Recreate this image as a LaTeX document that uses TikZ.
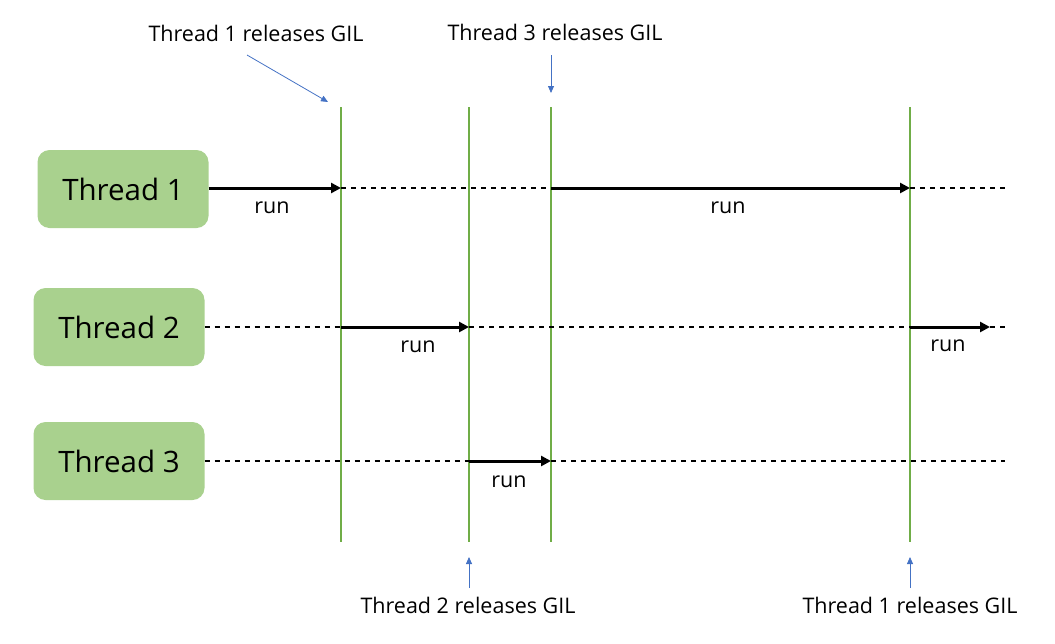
\documentclass[tikz,border=0pt]{standalone}
\usepackage{fontspec}
\setmainfont{Open Sans}
\usetikzlibrary{arrows.meta}
\definecolor{boxgreen}{HTML}{A9D18E}
\definecolor{linegreen}{HTML}{70AD47}
\definecolor{arrowblue}{HTML}{4472C4}
\begin{document}
\begin{tikzpicture}[x=1pt,y=-1pt,
  thread/.style={fill=boxgreen,rounded corners=12pt,minimum width=171pt,minimum height=78pt,inner sep=0pt,font=\fontsize{29.5}{34}\selectfont},
  small/.style={font=\fontsize{21.5}{24}\selectfont,inner sep=0pt},
  gil/.style={draw=linegreen,line width=1.5pt},
  runarrow/.style={draw=black,line width=3pt,-{Triangle[length=10pt,width=10pt]}},
  wait/.style={draw=black,line width=1.2pt,dash pattern=on 5pt off 5pt},
  note/.style={draw=arrowblue,line width=0.8pt,-{Triangle[length=7pt,width=6pt]}}]
\useasboundingbox (0,0) rectangle (1055,643);
% threads
\node[thread] (t1) at (123,189) {Thread 1};
\node[thread] (t2) at (119,327) {Thread 2};
\node[thread] (t3) at (119,461) {Thread 3};
% GIL lines
\foreach \n/\x in {a/341,b/469,c/551,d/910}{
  \coordinate (\n top) at (\x,107);
  \coordinate (\n bot) at (\x,542);
  \draw[gil] (\n top) -- (\n bot);
  \coordinate (\n1) at (\x,188);
  \coordinate (\n2) at (\x,327);
  \coordinate (\n3) at (\x,461);
}
\coordinate (e1) at (1005,188);
\coordinate (e2) at (1005,327);
\coordinate (f2) at (990,327);
\coordinate (e3) at (1005,461);
% row 1
\draw[runarrow] (t1.east |- a1) -- (a1);
\draw[wait] (a1) -- (c1);
\draw[runarrow] (c1) -- (d1);
\draw[wait] (d1) -- (e1);
% row 2
\draw[wait] (t2.east |- a2) -- (a2);
\draw[runarrow] (a2) -- (b2);
\draw[wait] (b2) -- (d2);
\draw[runarrow] (d2) -- (f2);
\draw[wait] (f2) -- (e2);
% row 3
\draw[wait] (t3.east |- b3) -- (b3);
\draw[runarrow] (b3) -- (c3);
\draw[wait] (c3) -- (e3);
% run labels
\node[small] (r1) at (272,208) {run};
\node[small] (r2) at (728,208) {run};
\node[small] (r3) at (418,347) {run};
\node[small] (r4) at (948,346) {run};
\node[small] (r5) at (509,482) {run};
% annotations
\node[small] (n1) at (256,33) {Thread 1 releases GIL};
\node[small] (n2) at (555,32) {Thread 3 releases GIL};
\node[small] (n3) at (468,605) {Thread 2 releases GIL};
\node[small] (n4) at (910,605) {Thread 1 releases GIL};
\coordinate (n1s) at (247,55); \coordinate (n1e) at (328,102);
\coordinate (n2s) at (551,55); \coordinate (n2e) at (551,93);
\coordinate (n3s) at (469,588); \coordinate (n3e) at (469,557);
\coordinate (n4s) at (910,588); \coordinate (n4e) at (910,557);
\draw[note] (n1s) -- (n1e);
\draw[note] (n2s) -- (n2e);
\draw[note] (n3s) -- (n3e);
\draw[note] (n4s) -- (n4e);
\end{tikzpicture}
\end{document}
